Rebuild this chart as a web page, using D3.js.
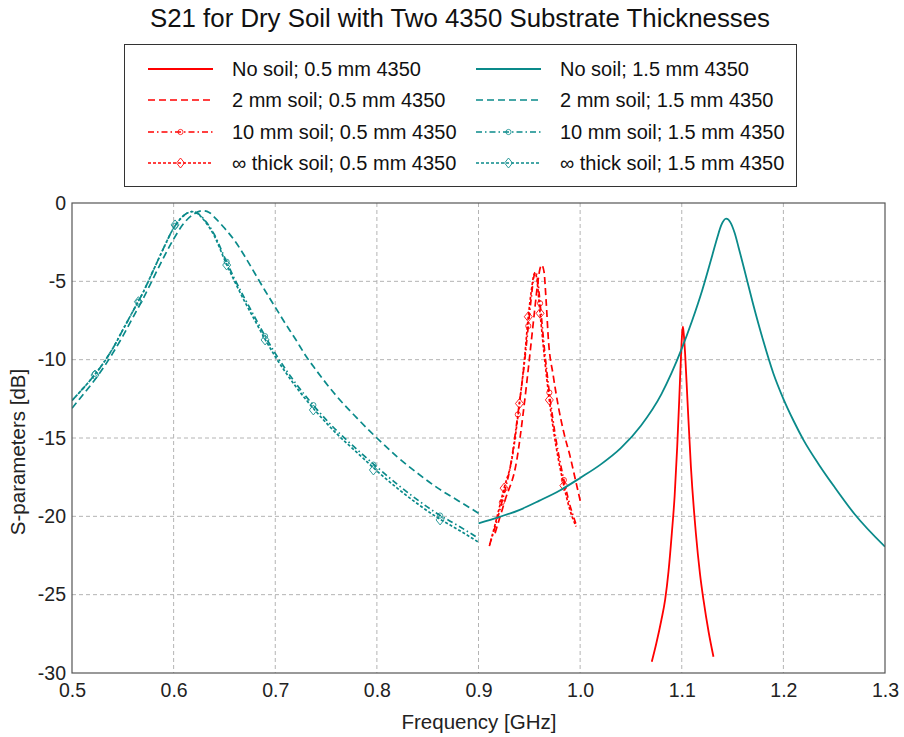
<!DOCTYPE html>
<html><head><meta charset="utf-8">
<script src="https://cdn.jsdelivr.net/npm/d3@7"></script>
<style>
body{margin:0;background:#fff;}
svg{display:block;font-family:"Liberation Sans",Arial,sans-serif;}
</style></head>
<body><svg id="chart" width="904" height="737"></svg>
<script>
// ---------- data ----------
const title = "S21 for Dry Soil with Two 4350 Substrate Thicknesses";
const xTicks = [0.5,0.6,0.7,0.8,0.9,1.0,1.1,1.2,1.3];
const yTicks = [0,-5,-10,-15,-20,-25,-30];

// red: 0.5 mm 4350
const redNoSoil = [[1.0705,-29.28],[1.075,-28.1],[1.08,-26.6],[1.0837,-25.3],[1.087,-23.5],[1.0902,-21.1],[1.093,-18.7],[1.0955,-15.6],[1.0975,-12.6],[1.0993,-9.7],[1.1004,-8.3],[1.1011,-7.9],[1.1019,-8.3],[1.1033,-9.6],[1.1056,-12.57],[1.109,-16.83],[1.1139,-21.08],[1.118,-23.7],[1.1214,-25.34],[1.1265,-27.4],[1.1312,-28.96]];
const red2mm = [[0.9163,-21.08],[0.926,-19.0],[0.9377,-16.4],[0.944,-13.4],[0.950,-10.0],[0.955,-7.0],[0.9585,-5.0],[0.9605,-4.2],[0.9622,-3.96],[0.9645,-4.4],[0.9665,-6.2],[0.9688,-8.74],[0.9735,-11.0],[0.9786,-13.0],[0.9845,-14.8],[0.9902,-16.19],[0.9955,-17.7],[1.0007,-19.17]];
const red10mm = [[0.911,-21.8],[0.918,-20.3],[0.923,-19.1],[0.9327,-16.3],[0.9387,-13.5],[0.9452,-10.2],[0.949,-7.85],[0.952,-6.0],[0.9545,-4.7],[0.9562,-4.4],[0.958,-4.8],[0.9606,-6.4],[0.965,-9.4],[0.9697,-12.1],[0.976,-15.0],[0.984,-17.68],[0.990,-19.3],[0.996,-20.5]];
const redInf = [[0.9107,-21.9],[0.918,-20.1],[0.9252,-18.2],[0.9327,-16.4],[0.9403,-12.8],[0.9452,-10.0],[0.949,-7.26],[0.952,-5.6],[0.9545,-4.6],[0.9556,-4.45],[0.957,-4.7],[0.9606,-7.04],[0.965,-9.9],[0.9697,-12.57],[0.976,-15.4],[0.984,-18.04],[0.990,-19.6],[0.996,-20.65]];
const red10mmMarkers = [[0.923,-19.1],[0.9387,-13.5],[0.949,-7.85],[0.9606,-6.4],[0.9697,-12.1],[0.984,-17.68]];
const redInfMarkers = [[0.9252,-18.2],[0.9403,-12.8],[0.949,-7.26],[0.9606,-7.04],[0.9697,-12.57],[0.984,-18.04]];

// teal: 1.5 mm 4350
const tealNoSoil = [[0.90,-20.45],[0.92,-20.05],[0.94,-19.6],[0.96,-19.0],[0.98,-18.35],[1.00,-17.55],[1.02,-16.7],[1.04,-15.65],[1.06,-14.2],[1.08,-12.2],[1.09,-10.85],[1.10,-9.3],[1.11,-7.55],[1.12,-5.6],[1.13,-3.35],[1.135,-2.2],[1.139,-1.4],[1.1437,-1.0],[1.148,-1.25],[1.152,-1.9],[1.156,-2.85],[1.161,-4.1],[1.17,-6.4],[1.18,-8.75],[1.19,-10.85],[1.20,-12.5],[1.21,-13.9],[1.22,-15.15],[1.235,-16.7],[1.25,-18.1],[1.27,-19.85],[1.30,-21.94]];
const teal2mm = [[0.50,-13.1],[0.51,-12.3],[0.52,-11.5],[0.53,-10.6],[0.54,-9.6],[0.55,-8.5],[0.56,-7.3],[0.57,-6.1],[0.58,-4.8],[0.59,-3.5],[0.60,-2.3],[0.61,-1.3],[0.62,-0.7],[0.629,-0.49],[0.635,-0.6],[0.64,-0.9],[0.65,-1.6],[0.66,-2.4],[0.67,-3.4],[0.68,-4.5],[0.69,-5.6],[0.70,-6.65],[0.71,-7.7],[0.72,-8.7],[0.73,-9.75],[0.74,-10.65],[0.76,-12.3],[0.78,-13.7],[0.80,-15.0],[0.82,-16.2],[0.84,-17.25],[0.86,-18.2],[0.88,-19.0],[0.90,-19.8]];
const teal10mm = [[0.50,-12.6],[0.51,-11.9],[0.52,-11.15],[0.53,-10.3],[0.54,-9.3],[0.55,-8.1],[0.56,-6.9],[0.57,-5.7],[0.58,-4.3],[0.59,-2.9],[0.60,-1.6],[0.61,-0.8],[0.618,-0.55],[0.625,-0.72],[0.63,-1.05],[0.64,-2.0],[0.65,-3.45],[0.66,-4.85],[0.67,-6.1],[0.68,-7.3],[0.69,-8.5],[0.70,-9.6],[0.72,-11.5],[0.74,-13.1],[0.76,-14.5],[0.78,-15.7],[0.80,-16.85],[0.82,-17.95],[0.84,-18.95],[0.86,-19.85],[0.88,-20.6],[0.90,-21.4]];
const tealInf = [[0.50,-12.6],[0.51,-11.9],[0.52,-11.15],[0.53,-10.3],[0.54,-9.3],[0.55,-8.1],[0.56,-6.9],[0.57,-5.7],[0.58,-4.3],[0.59,-2.9],[0.60,-1.6],[0.61,-0.8],[0.618,-0.55],[0.625,-0.75],[0.63,-1.1],[0.64,-2.1],[0.65,-3.6],[0.66,-5.0],[0.67,-6.3],[0.68,-7.5],[0.69,-8.7],[0.70,-9.8],[0.72,-11.7],[0.74,-13.3],[0.76,-14.7],[0.78,-15.9],[0.80,-17.1],[0.82,-18.2],[0.84,-19.2],[0.86,-20.1],[0.88,-20.85],[0.90,-21.65]];
const teal10mmMarkers = [[0.5226,-10.9],[0.5653,-6.3],[0.6014,-1.45],[0.6522,-3.75],[0.69,-8.5],[0.7375,-12.9],[0.7966,-16.7],[0.8622,-19.95]];
const tealInfMarkers = [[0.5226,-10.98],[0.5653,-6.3],[0.6014,-1.4],[0.6522,-3.96],[0.69,-8.74],[0.7375,-13.21],[0.7966,-17.04],[0.8622,-20.23]];

const RED = "#ff0000", TEAL = "#0a8a8a";
const styles = {
  solid:{dash:null},
  dashed:{dash:"7,4"},
  dashdot:{dash:"6,3,1.5,3"},
  dotted:{dash:"3,2"}
};
const series = [
  {label:"No soil; 0.5 mm 4350", color:RED, style:"solid", data:redNoSoil, marker:null, markers:[]},
  {label:"2 mm soil; 0.5 mm 4350", color:RED, style:"dashed", data:red2mm, marker:null, markers:[]},
  {label:"10 mm soil; 0.5 mm 4350", color:RED, style:"dashdot", data:red10mm, marker:"circle", markers:red10mmMarkers},
  {label:"\u221E thick soil; 0.5 mm 4350", color:RED, style:"dotted", data:redInf, marker:"diamond", markers:redInfMarkers},
  {label:"No soil; 1.5 mm 4350", color:TEAL, style:"solid", data:tealNoSoil, marker:null, markers:[]},
  {label:"2 mm soil; 1.5 mm 4350", color:TEAL, style:"dashed", data:teal2mm, marker:null, markers:[]},
  {label:"10 mm soil; 1.5 mm 4350", color:TEAL, style:"dashdot", data:teal10mm, marker:"circle", markers:teal10mmMarkers},
  {label:"\u221E thick soil; 1.5 mm 4350", color:TEAL, style:"dotted", data:tealInf, marker:"diamond", markers:tealInfMarkers}
];

// ---------- layout ----------
const L=72, R=885, T=203, B=673;
const svg = d3.select("#chart");
const x = d3.scaleLinear().domain([0.5,1.3]).range([L,R]);
const y = d3.scaleLinear().domain([-30,0]).range([B,T]);

svg.append("text").attr("x",460).attr("y",27).attr("text-anchor","middle")
  .attr("font-size",25.8).attr("fill","#111").text(title);

// grid
const grid = svg.append("g");
grid.selectAll(".vx").data(xTicks.slice(1,-1)).enter().append("line")
  .attr("x1",d=>x(d)).attr("x2",d=>x(d)).attr("y1",T).attr("y2",B)
  .attr("stroke","#b4b4b4").attr("stroke-width",1).attr("stroke-dasharray","4,3");
grid.selectAll(".hy").data(yTicks.slice(1,-1)).enter().append("line")
  .attr("y1",d=>y(d)).attr("y2",d=>y(d)).attr("x1",L).attr("x2",R)
  .attr("stroke","#b4b4b4").attr("stroke-width",1).attr("stroke-dasharray","4,3");

// axes labels via d3 axes (no lines)
const xAxis = svg.append("g").attr("transform",`translate(0,${B})`)
  .call(d3.axisBottom(x).tickValues(xTicks).tickFormat(d3.format(".1f")).tickSize(0).tickPadding(10));
const yAxis = svg.append("g").attr("transform",`translate(${L},0)`)
  .call(d3.axisLeft(y).tickValues(yTicks).tickFormat(d=>String(d)).tickSize(0).tickPadding(6));
[xAxis,yAxis].forEach(a=>{a.select(".domain").remove();
  a.selectAll("text").attr("font-size",19.5).attr("fill","#222").attr("font-family","Liberation Sans, Arial, sans-serif");});

svg.append("text").attr("x",479).attr("y",729).attr("text-anchor","middle")
  .attr("font-size",20.5).attr("fill","#222").text("Frequency [GHz]");
svg.append("text").attr("transform","translate(25,452) rotate(-90)").attr("text-anchor","middle")
  .attr("font-size",20.5).attr("fill","#222").text("S-parameters [dB]");

// clip
svg.append("defs").append("clipPath").attr("id","clip").append("rect")
  .attr("x",L).attr("y",T).attr("width",R-L).attr("height",B-T);
const plot = svg.append("g").attr("clip-path","url(#clip)");
const line = d3.line().x(d=>x(d[0])).y(d=>y(d[1])).curve(d3.curveMonotoneX);

function drawMarker(g, type, cx, cy, color){
  if(type==="circle"){
    g.append("circle").attr("cx",cx).attr("cy",cy).attr("r",2.6)
      .attr("fill","none").attr("stroke",color).attr("stroke-width",1).attr("opacity",0.8);
  } else if(type==="diamond"){
    const s=5;
    g.append("path").attr("d",`M${cx},${cy-s}L${cx+s*0.8},${cy}L${cx},${cy+s}L${cx-s*0.8},${cy}Z`)
      .attr("fill","none").attr("stroke",color).attr("stroke-width",1).attr("opacity",0.85);
  }
}

series.forEach(s=>{
  plot.append("path").datum(s.data).attr("d",line).attr("fill","none")
    .attr("stroke",s.color).attr("stroke-width",s.style==="solid"?1.8:1.7)
    .attr("stroke-dasharray",styles[s.style].dash);
  s.markers.forEach(m=>drawMarker(plot,s.marker,x(m[0]),y(m[1]),s.color));
});

// frame
svg.append("rect").attr("x",L).attr("y",T).attr("width",R-L).attr("height",B-T)
  .attr("fill","none").attr("stroke","#555").attr("stroke-width",1.2);

// legend
const lg = svg.append("g");
lg.append("rect").attr("x",124.5).attr("y",44.5).attr("width",672).attr("height",142)
  .attr("fill","#fff").attr("stroke","#333").attr("stroke-width",1);
const rowsY=[69,100,132,163], colX=[148,476], textX=[232,560];
series.forEach((s,i)=>{
  const c=Math.floor(i/4), r=i%4, yy=rowsY[r];
  lg.append("line").attr("x1",colX[c]).attr("x2",colX[c]+65).attr("y1",yy).attr("y2",yy)
    .attr("stroke",s.color).attr("stroke-width",s.style==="solid"?1.8:1.7)
    .attr("stroke-dasharray",styles[s.style].dash);
  if(s.marker) drawMarker(lg,s.marker,colX[c]+32.5,yy,s.color);
  lg.append("text").attr("x",textX[c]).attr("y",yy+7).attr("font-size",20).attr("fill","#111").text(s.label);
});
</script></body></html>
